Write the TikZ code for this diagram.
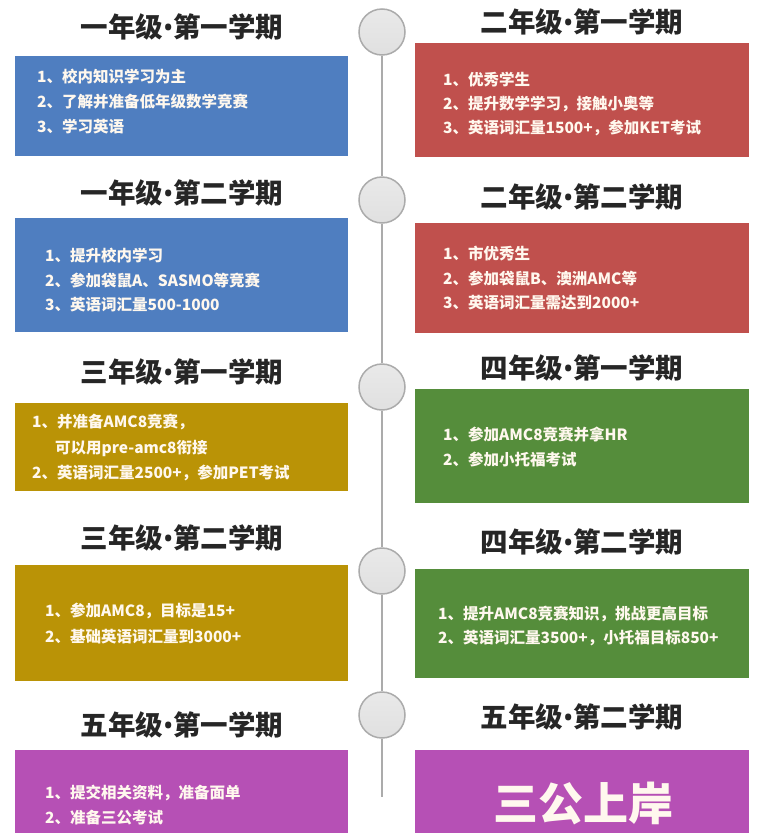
\documentclass[tikz,border=0pt]{standalone}
\usepackage{fontspec}
\setmainfont{Noto Sans CJK SC}
\newfontfamily\latinbul{Noto Sans}
\newcommand{\tdot}{{\latinbul\bfseries •}}
\definecolor{blueC}{HTML}{4F7EC0}
\definecolor{redC}{HTML}{C0504D}
\definecolor{goldC}{HTML}{BA9306}
\definecolor{greenC}{HTML}{558D3B}
\definecolor{purpleC}{HTML}{B650B5}
\definecolor{cream}{HTML}{FFF8EE}
\definecolor{titleC}{HTML}{262626}
\definecolor{lineC}{HTML}{ABABAB}
\definecolor{dotC}{HTML}{E0E0E0}
\begin{document}
\begin{tikzpicture}[x=1pt,y=-1pt,
  box/.style={draw=none,inner sep=0pt,fill=#1},
  boxtext/.style={anchor=west,align=left,text=cream,inner sep=0pt,
    font=\bfseries\fontsize{15.5}{25}\selectfont},
  ttl/.style={text=titleC,inner sep=0pt,font=\bfseries\fontsize{27.5}{30}\selectfont},
  dot/.style={circle,draw=lineC,line width=1.5pt,top color=dotC!70!white,bottom color=dotC,minimum size=46pt,inner sep=0pt},
  tline/.style={draw=lineC,line width=1.8pt}]
\useasboundingbox (0,0) rectangle (761,833);
\clip (0,0) rectangle (761,833);
% timeline
\coordinate (tend) at (382,797);
\node[dot] (c1) at (382,32) {};
\node[dot] (c2) at (382,200) {};
\node[dot] (c3) at (382,387) {};
\node[dot] (c4) at (382,571) {};
\node[dot] (c5) at (382,715) {};
\draw[tline] (c1.south) -- (c2.north);
\draw[tline] (c2.south) -- (c3.north);
\draw[tline] (c3.south) -- (c4.north);
\draw[tline] (c4.south) -- (c5.north);
\draw[tline] (c5.south) -- (tend);
% titles
\node[ttl] (t1) at (182,27) {一年级\tdot 第一学期};
\node[ttl] (t2) at (582,22) {二年级\tdot 第一学期};
\node[ttl] (t3) at (182,193) {一年级\tdot 第二学期};
\node[ttl] (t4) at (582,197) {二年级\tdot 第二学期};
\node[ttl] (t5) at (182,372) {三年级\tdot 第一学期};
\node[ttl] (t6) at (582,368) {四年级\tdot 第一学期};
\node[ttl] (t7) at (182,538) {三年级\tdot 第二学期};
\node[ttl] (t8) at (582,542) {四年级\tdot 第二学期};
\node[ttl] (t9) at (182,725) {五年级\tdot 第一学期};
\node[ttl] (t10) at (582,717) {五年级\tdot 第二学期};
% boxes
\node[box=blueC,minimum width=333pt,minimum height=100pt] (b1) at (181.5,106) {};
\node[box=redC,minimum width=334pt,minimum height=114pt] (b2) at (582,100) {};
\node[box=blueC,minimum width=333pt,minimum height=114pt] (b3) at (181.5,275) {};
\node[box=redC,minimum width=334pt,minimum height=110pt] (b4) at (582,278) {};
\node[box=goldC,minimum width=333pt,minimum height=88pt] (b5) at (181.5,447) {};
\node[box=greenC,minimum width=334pt,minimum height=114pt] (b6) at (582,446) {};
\node[box=goldC,minimum width=333pt,minimum height=116pt] (b7) at (181.5,623) {};
\node[box=greenC,minimum width=334pt,minimum height=109pt] (b8) at (582,623.5) {};
\node[box=purpleC,minimum width=333pt,minimum height=90pt] (b9) at (181.5,795) {};
\node[box=purpleC,minimum width=334pt,minimum height=90pt] (b10) at (582,795) {};
% box texts
\node[boxtext] (x1) at (37,102) {1、校内知识学习为主\\2、了解并准备低年级数学竞赛\\3、学习英语};
\node[boxtext,font=\bfseries\fontsize{15.5}{24}\selectfont] (x2) at (443,104) {1、优秀学生\\2、提升数学学习，接触小奥等\\3、英语词汇量1500+，参加KET考试};
\node[boxtext,font=\bfseries\fontsize{15.5}{24.5}\selectfont] (x3) at (45,280.5) {1、提升校内学习\\2、参加袋鼠A、SASMO等竞赛\\3、英语词汇量500-1000};
\node[boxtext,font=\bfseries\fontsize{15.5}{24.5}\selectfont] (x4) at (443,278.5) {1、市优秀生\\2、参加袋鼠B、澳洲AMC等\\3、英语词汇量需达到2000+};
\node[boxtext,font=\bfseries\fontsize{15.5}{25.5}\selectfont] (x5) at (32,447.5) {1、并准备AMC8竞赛，\\\hspace*{23pt}可以用pre-amc8衔接\\2、英语词汇量2500+，参加PET考试};
\node[boxtext] (x6) at (443,446.5) {1、参加AMC8竞赛并拿HR\\2、参加小托福考试};
\node[boxtext,font=\bfseries\fontsize{15.5}{26}\selectfont] (x7) at (45,623) {1、参加AMC8，目标是15+\\2、基础英语词汇量到3000+};
\node[boxtext,font=\bfseries\fontsize{15.5}{24}\selectfont] (x8) at (438,626) {1、提升AMC8竞赛知识，挑战更高目标\\2、英语词汇量3500+，小托福目标850+};
\node[boxtext] (x9) at (45,805.5) {1、提交相关资料，准备面单\\2、准备三公考试};
\node[text=cream,inner sep=0pt,font=\bfseries\fontsize{45}{48}\selectfont] (x10) at (583,804) {三公上岸};
\end{tikzpicture}
\end{document}
